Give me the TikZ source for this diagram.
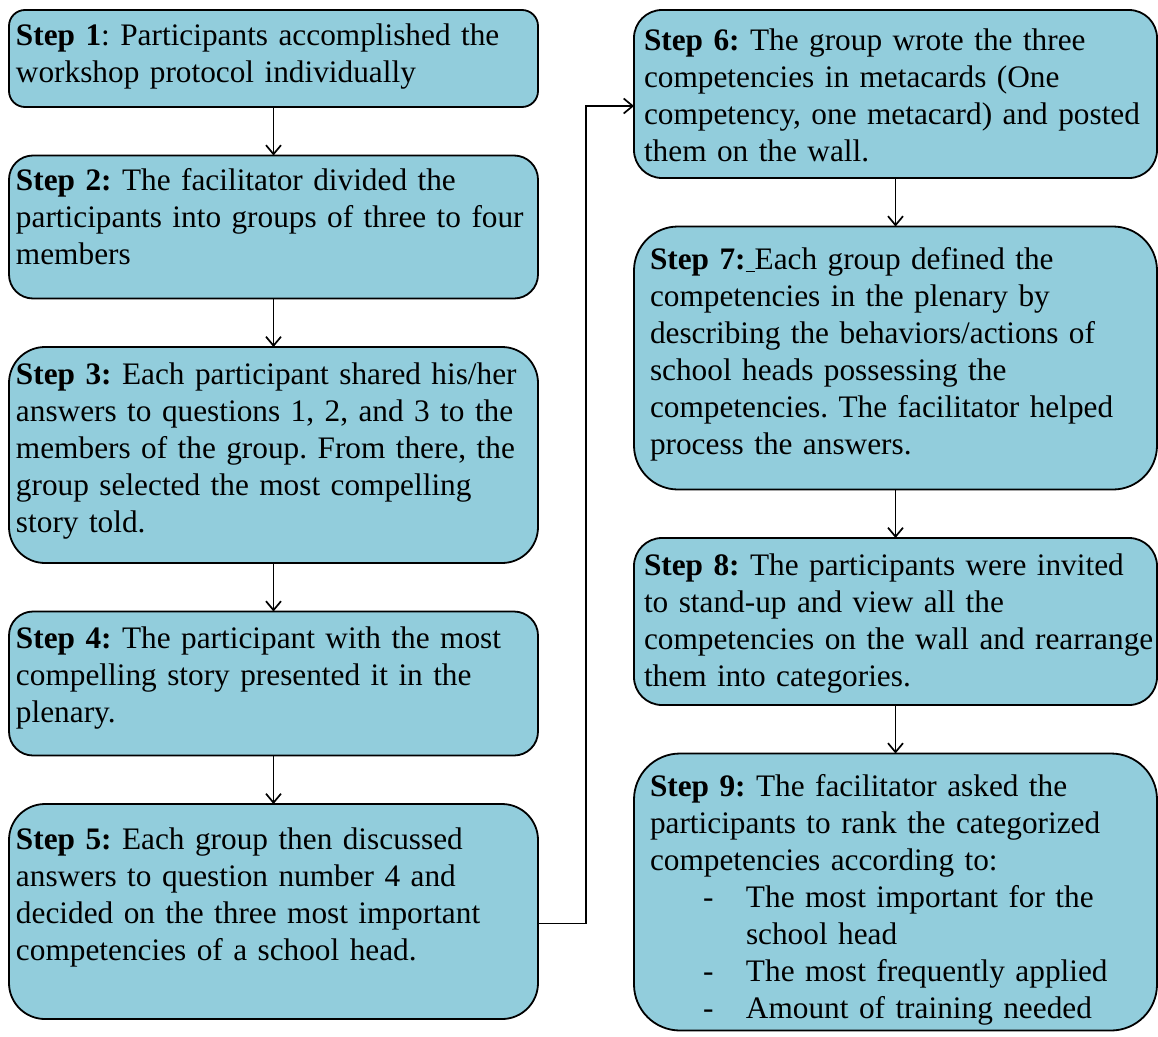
\documentclass[tikz,border=0pt]{standalone}
\usepackage{fontspec}
\setmainfont{Liberation Serif}
\usepackage{xcolor}
\usetikzlibrary{arrows.meta,positioning}

\definecolor{stepblue}{HTML}{92CDDC}
\frenchspacing
% lines of a step, no wrapping
\newcommand{\steplines}[1]{\begin{tabular}[t]{@{}l@{}}#1\end{tabular}}
\newcommand{\dashitem}{\makebox[96pt][l]{\hspace*{53pt}-}}

\begin{document}
\begin{tikzpicture}[node distance=48.5pt,
    stepbox/.style={draw, line width=1.8pt, fill=stepblue, rounded corners=#1,
      inner ysep=0pt, outer sep=0pt, align=left, font=\fontsize{31.3}{37}\selectfont},
    stepbox/.default=24pt,
    leftbox/.style={inner xsep=7pt, text width=515pt},
    arr/.style={-{Straight Barb[length=9pt,width=15pt]}, line width=1.7pt}]

    \useasboundingbox (0,0) rectangle (1158pt,-1036pt);

    % left column
    \node[stepbox=16pt, leftbox, anchor=north west, text height=35pt, text depth=62pt] (s1) at (9pt,-10pt)
        {\steplines{\textbf{Step 1}: Participants accomplished the\\
         workshop protocol individually}};
    \node[stepbox=24pt, leftbox, below=of s1.south west, anchor=north west, text height=35pt, text depth=108pt] (s2)
        {\steplines{\textbf{Step 2:} The facilitator divided the\\
         participants into groups of three to four\\
         members}};
    \node[stepbox=36pt, leftbox, below=of s2.south west, anchor=north west, text height=37pt, text depth=179pt] (s3)
        {\steplines{\textbf{Step 3:} Each participant shared his/her\\
         answers to questions 1, 2, and 3 to the\\
         members of the group. From there, the\\
         group selected the most compelling\\
         story told.}};
    \node[stepbox=24pt, leftbox, below=of s3.south west, anchor=north west, text height=37pt, text depth=107pt] (s4)
        {\steplines{\textbf{Step 4:} The participant with the most\\
         compelling story presented it in the\\
         plenary.}};
    \node[stepbox=36pt, leftbox, below=of s4.south west, anchor=north west, text height=45pt, text depth=170pt] (s5)
        {\steplines{\textbf{Step 5:} Each group then discussed\\
         answers to question number 4 and\\
         decided on the three most important\\
         competencies of a school head.}};

    % right column
    \node[stepbox=28pt, right=96pt of s1.north east, anchor=north west, inner xsep=10pt, text width=503pt,
          text height=40pt, text depth=128pt] (s6)
        {\steplines{\textbf{Step 6:} The group wrote the three\\
         competencies in metacards (One\\
         competency, one metacard) and posted\\
         them on the wall.}};
    \node[stepbox=44pt, below=of s6.south west, anchor=north west, inner xsep=16pt, text width=491pt,
          text height=43pt, text depth=220pt] (s7)
        {\steplines{\textbf{Step 7:}\underline{\hbox to 9pt{}}Each group defined the\\
         competencies in the plenary by\\
         describing the behaviors/actions of\\
         school heads possessing the\\
         competencies. The facilitator helped\\
         process the answers.}};
    \node[stepbox=28pt, below=of s7.south west, anchor=north west, inner xsep=10pt, text width=503pt,
          text height=37pt, text depth=130pt] (s8)
        {\steplines{\textbf{Step 8:} The participants were invited\\
         to stand-up and view all the\\
         competencies on the wall and rearrange\\
         them into categories.}};
    \node[stepbox=46pt, below=of s8.south west, anchor=north west, inner xsep=16pt, text width=491pt,
          text height=43pt, text depth=234pt] (s9)
        {\steplines{\textbf{Step 9:} The facilitator asked the\\
         participants to rank the categorized\\
         competencies according to:\\
         \dashitem The most important for the\\
         \hspace*{96pt}school head\\
         \dashitem The most frequently applied\\
         \dashitem Amount of training needed}};

    \draw[arr] (s1) -- (s2);
    \draw[arr] (s2) -- (s3);
    \draw[arr] (s3) -- (s4);
    \draw[arr] (s4) -- (s5);
    \draw[arr] ([yshift=-12pt]s5.east) -- ++(48pt,0) |- ([yshift=-12pt]s6.west);
    \draw[arr] (s6) -- (s7);
    \draw[arr] (s7) -- (s8);
    \draw[arr] (s8) -- (s9);
\end{tikzpicture}
\end{document}
